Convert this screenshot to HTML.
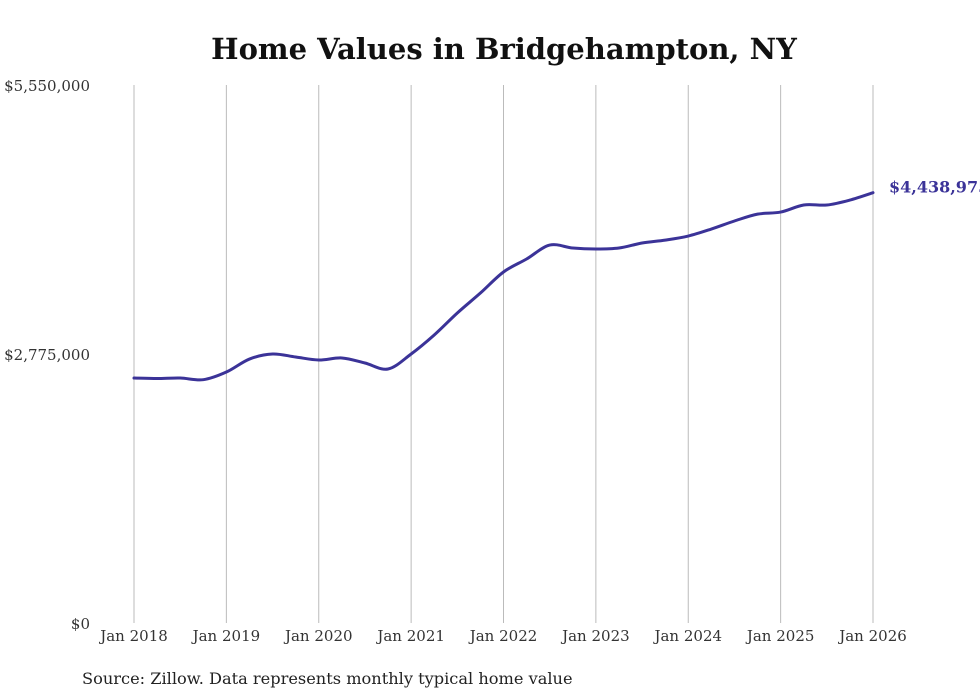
<!DOCTYPE html>
<html><head><meta charset="utf-8"><style>
body{margin:0;background:#fff;}
svg{display:block;font-family:"DejaVu Serif","Liberation Serif",serif;}
</style></head><body>
<svg id="chart" width="980" height="699">
<text x="504" y="59" text-anchor="middle" font-size="29" font-weight="bold" fill="#111">Home Values in Bridgehampton, NY</text>
<g id="grid"></g><g id="yaxis"></g><g id="xaxis"></g><g id="series"></g>
<text x="82" y="684" font-size="16.2" fill="#222">Source: Zillow. Data represents monthly typical home value</text>
</svg>
<script>
const xTickLabels=["Jan 2018","Jan 2019","Jan 2020","Jan 2021","Jan 2022","Jan 2023","Jan 2024","Jan 2025","Jan 2026"];
const yTickValues=[0,2775000,5550000];
const yTickLabels=["$0","$2,775,000","$5,550,000"];
const dates=[2018,2018.25,2018.5,2018.75,2019,2019.25,2019.5,2019.75,2020,2020.25,2020.5,2020.75,2021,2021.25,2021.5,2021.75,2022,2022.25,2022.5,2022.75,2023,2023.25,2023.5,2023.75,2024,2024.25,2024.5,2024.75,2025,2025.25,2025.5,2025.75,2026];
const values=[2527000,2522000,2527000,2510000,2589000,2723000,2775000,2744000,2713000,2734000,2682000,2620000,2775000,2971000,3198000,3404000,3621000,3755000,3899000,3868000,3858000,3868000,3920000,3950000,3992000,4064000,4147000,4218000,4239000,4312000,4312000,4363000,4438975];
const lastLabel="$4,438,975";
const NS="http://www.w3.org/2000/svg";
const X=d=>134+(d-2018)*(873-134)/8;
const Y=v=>623-v/5550000*538;
function mk(t,a,p){const e=document.createElementNS(NS,t);for(const k in a)e.setAttribute(k,a[k]);p.appendChild(e);return e;}
const grid=document.getElementById('grid'),xa=document.getElementById('xaxis'),ya=document.getElementById('yaxis'),se=document.getElementById('series');
xTickLabels.forEach((l,i)=>{
 const x=X(2018+i);
 const g=mk('line',{x1:x,x2:x,y1:85,y2:623,stroke:'#bbb','stroke-width':1},grid);
 
 
 const t=mk('text',{x:x,y:641,'text-anchor':'middle','font-size':15,fill:'#333'},xa);
 t.textContent=l;
 
 
});
yTickValues.forEach((v,i)=>{
 const t=mk('text',{x:90,y:Y(v)+6,'text-anchor':'end','font-size':15,fill:'#333'},ya);
 t.textContent=yTickLabels[i];
 
 
});
const pts=dates.map((d,i)=>[X(d),Y(values[i])]);
let d='M'+pts[0][0]+','+pts[0][1];
for(let i=0;i<pts.length-1;i++){
 const p0=pts[Math.max(0,i-1)],p1=pts[i],p2=pts[i+1],p3=pts[Math.min(pts.length-1,i+2)];
 const c1=[p1[0]+(p2[0]-p0[0])/6,p1[1]+(p2[1]-p0[1])/6],c2=[p2[0]-(p3[0]-p1[0])/6,p2[1]-(p3[1]-p1[1])/6];
 d+=`C${c1[0]},${c1[1]} ${c2[0]},${c2[1]} ${p2[0]},${p2[1]}`;
}
const path=mk('path',{d:d,fill:'none',stroke:'#3b3398','stroke-width':3,'stroke-linejoin':'round','stroke-linecap':'round'},se);


const lp=pts[pts.length-1];
const lt=mk('text',{x:lp[0]+16,y:lp[1]+0,'font-size':16,'font-weight':'bold',fill:'#3b3398'},se);
lt.textContent=lastLabel;


</script>
</body></html>
